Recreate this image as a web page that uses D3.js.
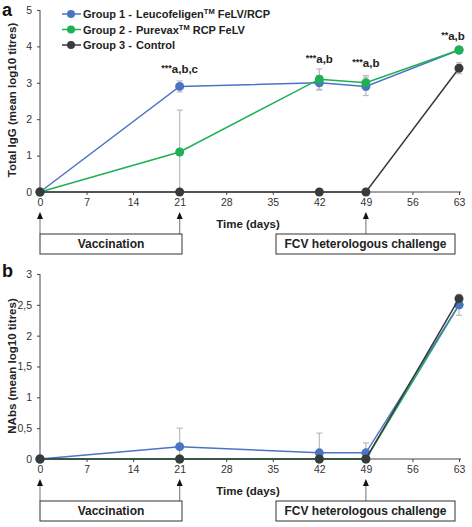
<!DOCTYPE html>
<html><head><meta charset="utf-8">
<script src="https://cdn.jsdelivr.net/npm/d3@7"></script>
<style>body{margin:0;background:#fff}svg{display:block;font-family:"Liberation Sans",Arial,sans-serif}</style>
</head><body>
<svg id="c" width="472" height="527"></svg>
<script>
const days = [0, 21, 42, 49, 63];
const xTicks = [0, 7, 14, 21, 28, 35, 42, 49, 56, 63];
const groups = ["Group 1 -", "Group 2 -", "Group 3 -"];
const groupNames = [["Leucofeligen", "TM", " FeLV/RCP"], ["Purevax", "TM", " RCP FeLV"], ["Control", "", ""]];
const colors = ["#4a74c4", "#1db154", "#3a3a3a"];
// Panel a: Total IgG
const igG1 = [0, 2.9, 3.0, 2.9, 3.9];
const igG2 = [0, 1.1, 3.1, 3.0, 3.9];
const igG3 = [0, 0, 0, 0, 3.4];
const igErr1 = [0, 0.15, 0.2, 0.25, 0.05];
const igErr2 = [0, 1.15, 0.28, 0.2, 0.05];
const igErr3 = [0, 0, 0, 0, 0.15];
const yTicksA = [0, 1, 2, 3, 4, 5];
const annDays = [21, 42, 49, 63];
const annStars = ["***", "***", "***", "**"];
const annText = ["a,b,c", "a,b", "a,b", "a,b"];
const annRef = [2.9, 3.1, 3.0, 3.9];
// Panel b: NAbs
const nab1 = [0, 0.2, 0.1, 0.1, 2.5];
const nab2 = [0, 0, 0, 0, 2.5];
const nab3 = [0, 0, 0, 0, 2.6];
const nabErr1 = [0, 0.3, 0.32, 0.16, 0.17];
const nabErr2 = [0, 0, 0, 0, 0];
const nabErr3 = [0, 0, 0, 0, 0];
const yTicksB = [0, 0.5, 1, 1.5, 2, 2.5, 3];
const yTickLabelsB = ["0", "0,5", "1", "1,5", "2", "2,5", "3"];

const svg = d3.select("#c");
const x = d3.scaleLinear().domain([0, 63]).range([40, 459]);

function panel(y, series, errs, order, yTicks, yLabels, yTitle, axisY, label, labelY, annot) {
  const g = svg.append("g");
  const ya = d3.axisLeft(y).tickValues(yTicks).tickFormat((d, i) => yLabels[i]).tickSize(3).tickPadding(5);
  const yg = g.append("g").attr("transform", "translate(40,0)").call(ya);
  yg.select(".domain").attr("stroke", "#444").attr("d", `M0,${y.range()[1]}V${y.range()[0]}`);
  yg.selectAll(".tick line").attr("stroke", "#444");
  yg.selectAll("text").attr("font-size", 10.5).attr("fill", "#333").attr("font-family", "Liberation Sans, Arial");
  const xa = d3.axisBottom(x).tickValues(xTicks).tickSize(3).tickPadding(4);
  const xg = g.append("g").attr("transform", `translate(0,${y(0)})`).call(xa);
  xg.select(".domain").attr("stroke", "#444").attr("d", `M40,0H461`);
  xg.selectAll(".tick line").attr("stroke", "#444");
  xg.selectAll("text").attr("font-size", 10.5).attr("fill", "#333").attr("font-family", "Liberation Sans, Arial");
  g.append("text").attr("x", 248).attr("y", y(0) + 36).attr("text-anchor", "middle")
    .attr("font-size", 11.5).attr("font-weight", "bold").attr("fill", "#222").text("Time (days)");
  g.append("text").attr("transform", `translate(16,${axisY}) rotate(-90)`).attr("text-anchor", "middle")
    .attr("font-size", 11.5).attr("font-weight", "bold").attr("fill", "#222").text(yTitle);
  g.append("text").attr("x", 2).attr("y", labelY).attr("font-size", 18).attr("font-weight", "bold").attr("fill", "#111").text(label);
  // error bars
  series.forEach((s, gi) => {
    s.forEach((v, i) => {
      const e = errs[gi][i];
      if (!e) return;
      const top = y(v + e), bot = Math.min(y(0), y(v - e));
      const cx = x(days[i]);
      g.append("line").attr("x1", cx).attr("x2", cx).attr("y1", top).attr("y2", bot).attr("stroke", "#bbb").attr("stroke-width", 1.2);
      g.append("line").attr("x1", cx - 3).attr("x2", cx + 3).attr("y1", top).attr("y2", top).attr("stroke", "#bbb").attr("stroke-width", 1.2);
      if (y(v - e) < y(0)) g.append("line").attr("x1", cx - 3).attr("x2", cx + 3).attr("y1", bot).attr("y2", bot).attr("stroke", "#bbb").attr("stroke-width", 1.2);
    });
  });
  const line = d3.line().x((d, i) => x(days[i])).y(d => y(d));
  order.forEach(gi => {
    const s = series[gi];
    g.append("path").datum(s).attr("d", line).attr("fill", "none").attr("stroke", colors[gi]).attr("stroke-width", 1.5);
    g.selectAll(null).data(s).enter().append("circle").attr("cx", (d, i) => x(days[i])).attr("cy", d => y(d))
      .attr("r", 4.5).attr("fill", colors[gi]);
  });
  if (annot) {
    annDays.forEach((d, i) => {
      const t = g.append("text").attr("x", x(d) + (d === 63 ? -6 : 0)).attr("y", y(annRef[i]) - (d === 63 ? 10 : (d === 21 ? 13 : 16)))
        .attr("text-anchor", "middle").attr("font-size", 11.5).attr("font-weight", "bold").attr("fill", "#222");
      t.append("tspan").attr("font-size", 9).attr("dy", -2).text(annStars[i]);
      t.append("tspan").attr("dy", 2).text(annText[i]);
    });
  }
  const base = y(0);
  [0, 21, 49].forEach(d => {
    const cx = x(d);
    g.append("line").attr("x1", cx).attr("x2", cx).attr("y1", base + 24).attr("y2", base + 42).attr("stroke", "#888").attr("stroke-width", 1.2);
    g.append("path").attr("d", `M${cx - 3},${base + 27}L${cx},${base + 20}L${cx + 3},${base + 27}Z`).attr("fill", "#111");
  });
  const boxes = [[40, 182, "Vaccination"], [276, 455, "FCV heterologous challenge"]];
  boxes.forEach(b => {
    g.append("rect").attr("x", b[0]).attr("y", base + 42).attr("width", b[1] - b[0]).attr("height", 20)
      .attr("fill", "#fff").attr("stroke", "#333").attr("stroke-width", 1);
    g.append("text").attr("x", (b[0] + b[1]) / 2).attr("y", base + 56).attr("text-anchor", "middle")
      .attr("font-size", 12).attr("font-weight", "bold").attr("fill", "#222").text(b[2]);
  });
}

const yA = d3.scaleLinear().domain([0, 5]).range([192, 10]);
const yB = d3.scaleLinear().domain([0, 3]).range([459, 274]);
panel(yA, [igG1, igG2, igG3], [igErr1, igErr2, igErr3], [0, 1, 2], yTicksA, yTicksA.map(String), "Total IgG (mean log10 titres)", 100, "a", 16, true);
panel(yB, [nab1, nab2, nab3], [nabErr1, nabErr2, nabErr3], [1, 0, 2], yTicksB, yTickLabelsB, "NAbs (mean log10 titres)", 366, "b", 277, false);

const leg = svg.append("g");
groups.forEach((gname, i) => {
  const ly = 14 + i * 15.5;
  leg.append("line").attr("x1", 62).attr("x2", 81).attr("y1", ly).attr("y2", ly).attr("stroke", colors[i]).attr("stroke-width", 1.5);
  leg.append("circle").attr("cx", 71).attr("cy", ly).attr("r", 4).attr("fill", colors[i]);
  const t = leg.append("text").attr("x", 83).attr("y", ly + 4).attr("font-size", 11).attr("font-weight", "bold").attr("fill", "#222");
  t.append("tspan").text(gname);
  t.append("tspan").attr("x", 136).text(groupNames[i][0]);
  if (groupNames[i][1]) {
    t.append("tspan").attr("font-size", 7.5).attr("dy", -4).text(groupNames[i][1]);
    t.append("tspan").attr("dy", 4).text(groupNames[i][2]);
  }
});
</script>
</body></html>
